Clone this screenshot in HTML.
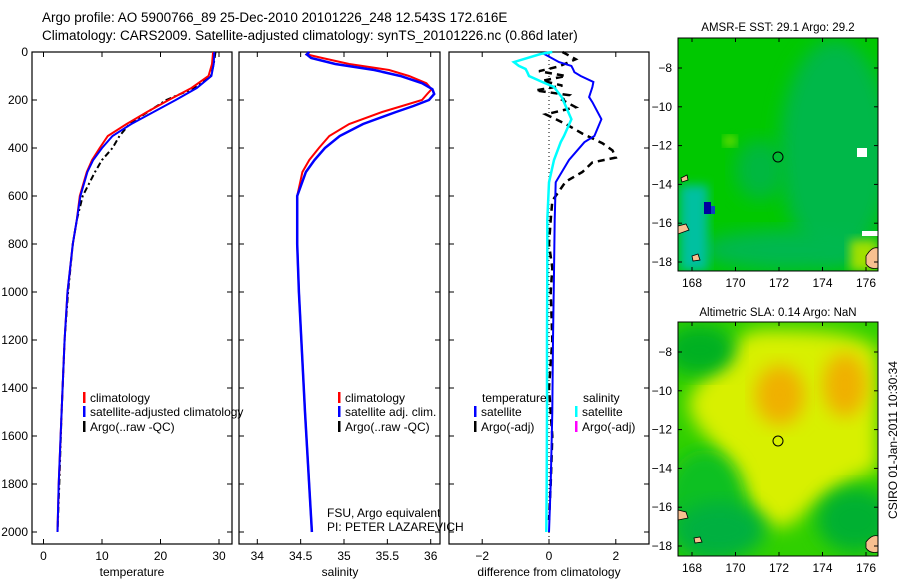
<!DOCTYPE html>
<html><head><meta charset="utf-8">
<style>
html,body{margin:0;padding:0;background:#fff;}
svg{display:block;font-family:"Liberation Sans",sans-serif;}
</style></head>
<body>
<svg id="fig" width="900" height="580" viewBox="0 0 900 580" xmlns="http://www.w3.org/2000/svg">
<defs>
<filter id="blur" x="-20%" y="-20%" width="140%" height="140%"><feGaussianBlur stdDeviation="9"/></filter>
<filter id="blur2" x="-20%" y="-20%" width="140%" height="140%"><feGaussianBlur stdDeviation="5"/></filter>
<clipPath id="c1"><rect x="678" y="38" width="200" height="233"/></clipPath>
<clipPath id="c2"><rect x="678" y="322" width="200" height="234"/></clipPath>
</defs>
<text x="42" y="22" font-size="13.5">Argo profile: AO 5900766_89 25-Dec-2010 20101226_248 12.543S 172.616E</text>
<text x="42" y="40" font-size="13.5">Climatology: CARS2009. Satellite-adjusted climatology: synTS_20101226.nc (0.86d later)</text>

<!-- map 1 -->
<g clip-path="url(#c1)">
<rect x="678" y="38" width="200" height="233" fill="#00c800"/>
<ellipse cx="835" cy="150" rx="55" ry="110" fill="#00b848" filter="url(#blur)"/>
<ellipse cx="790" cy="250" rx="90" ry="20" fill="#00b850" filter="url(#blur)"/>
<ellipse cx="760" cy="170" rx="25" ry="30" fill="#00b840" filter="url(#blur)"/>
<rect x="680" y="185" width="28" height="86" fill="#00c0a0" filter="url(#blur2)"/>
<rect x="704" y="202" width="7" height="12" fill="#0000a0"/>
<rect x="711" y="206" width="4" height="8" fill="#1040c0"/>
<rect x="850" y="240" width="28" height="31" fill="#a0e000" filter="url(#blur2)"/>
<rect x="724" y="136" width="12" height="10" fill="#80e000" filter="url(#blur2)"/>
<rect x="857" y="148" width="10" height="9" fill="#fff"/>
<rect x="862" y="231" width="16" height="5" fill="#fff"/>
<path d="M866 256 q6 -10 12 -8 v20 q-8 2 -12 -4z" fill="#f8c090" stroke="#000" stroke-width="0.8"/>
<path d="M678 226 l8 -2 l3 6 l-11 4z" fill="#f8c090" stroke="#000" stroke-width="0.8"/>
<path d="M692 256 l6 -2 l2 6 l-7 1z" fill="#f8c090" stroke="#000" stroke-width="0.8"/>
<path d="M681 178 l6 -3 l1 5 l-6 2z" fill="#f8c090" stroke="#000" stroke-width="0.8"/>
<circle cx="778" cy="157" r="5" fill="none" stroke="#000"/>
</g>
<rect x="678" y="38" width="200" height="233" fill="none" stroke="#000"/>
<text x="778" y="31" font-size="11.5" text-anchor="middle">AMSR-E SST: 29.1 Argo: 29.2</text>

<!-- map 2 -->
<g clip-path="url(#c2)">
<rect x="678" y="322" width="200" height="234" fill="#30d000"/>
<path d="M690 395 C 720 360, 740 330, 760 330 C 800 330, 860 330, 878 350 L 878 470 C 840 480, 820 500, 790 525 C 760 540, 730 470, 710 440 C 695 425, 685 410, 690 395 Z" fill="#d8f000" filter="url(#blur)"/>
<ellipse cx="780" cy="395" rx="25" ry="30" fill="#f0b000" filter="url(#blur)"/>
<ellipse cx="845" cy="385" rx="22" ry="32" fill="#f0b000" filter="url(#blur)"/>
<ellipse cx="700" cy="350" rx="35" ry="25" fill="#00b020" filter="url(#blur)"/>
<ellipse cx="705" cy="505" rx="40" ry="55" fill="#10c020" filter="url(#blur)"/>
<ellipse cx="720" cy="530" rx="45" ry="28" fill="#00b040" filter="url(#blur)"/>
<ellipse cx="855" cy="520" rx="38" ry="32" fill="#00b030" filter="url(#blur)"/>
<path d="M678 510 l8 2 l2 6 l-10 2z" fill="#f8c090" stroke="#000" stroke-width="0.8"/>
<path d="M694 538 l6 -1 l2 5 l-7 1z" fill="#f8c090" stroke="#000" stroke-width="0.8"/>
<path d="M866 542 q6 -8 12 -6 v16 q-8 2 -12 -4z" fill="#f8c090" stroke="#000" stroke-width="0.8"/>
<circle cx="778" cy="441" r="5" fill="none" stroke="#000"/>
</g>
<rect x="678" y="322" width="200" height="234" fill="none" stroke="#000"/>
<text x="778" y="316" font-size="11.5" text-anchor="middle">Altimetric SLA: 0.14 Argo: NaN</text>
<text transform="translate(897,440) rotate(-90)" font-size="12" text-anchor="middle">CSIRO 01-Jan-2011 10:30:34</text>
<g id="dyn"></g>
</svg>
<script>
// ---------- data ----------
const depthT = [0,50,100,150,200,250,300,350,400,450,500,600,700,800,1000,1200,1500,1800,2000];
const tempClim = [29.0,28.8,28.2,25.3,21.4,17.7,14.2,11.0,9.6,8.3,7.4,6.2,5.7,5.0,4.1,3.6,3.1,2.6,2.4];
const tempSat  = [29.2,29.1,28.7,26.2,22.6,18.8,15.0,11.8,10.0,8.5,7.5,6.3,5.7,5.0,4.1,3.6,3.1,2.6,2.4];
const tempArgo = [29.4,29.1,28.6,25.8,21.0,17.8,14.7,13.0,11.8,10.0,8.8,6.7,5.7,5.0,4.2,3.6,3.1,2.7,2.4];
const depthS = [0,10,25,50,75,100,130,155,175,200,225,250,300,350,400,450,500,600,800,1000,1500,2000];
const salClim = [34.6,34.57,34.75,35.06,35.52,35.75,35.95,36.01,35.96,35.9,35.67,35.44,35.06,34.83,34.71,34.6,34.52,34.46,34.46,34.48,34.55,34.63];
const salSat  = [34.6,34.57,34.62,34.9,35.35,35.65,35.9,36.02,36.04,35.98,35.8,35.6,35.22,34.95,34.78,34.66,34.56,34.46,34.46,34.48,34.55,34.63];
const depthD = [0,8,42,58,71,84,100,125,146,188,209,280,350,376,450,543,700,918,1200,1500,1800,2000];
const diffTsat = [-0.1,-0.15,0.3,0.67,0.72,0.76,0.95,1.33,1.3,1.2,1.3,1.57,1.36,1.06,0.6,0.2,0.17,0.15,0.12,0.1,0.05,0.0];
const diffSsat = [0.1,-0.24,-1.05,-0.9,-0.7,-0.65,-0.6,-0.2,0.15,0.38,0.45,0.67,0.45,0.35,0.15,0.0,-0.05,-0.05,-0.06,-0.06,-0.07,-0.08];
const depthA = [0,30,60,80,100,120,140,160,180,200,230,260,300,340,380,410,440,460,500,540,580,620,700,800,900,1000,1200,1400,1600,1800,1950];
const diffTargo = [0.4,0.8,0.3,-0.3,0.5,-0.2,0.4,-0.4,0.6,0.4,0.8,-0.1,0.5,1.0,1.6,1.9,2.0,1.3,1.0,0.5,0.3,0.1,0.05,0.0,0.1,0.05,0.1,0.0,0.1,0.05,0.0];
const depthTicks = [0,200,400,600,800,1000,1200,1400,1600,1800,2000];
const tempTicks = [0,10,20,30];
const salTicks = [34,34.5,35,35.5,36];
const diffTicks = [-2,0,2];
const lonTicks = [168,170,172,174,176];
const latTicks = [-8,-10,-12,-14,-16,-18];

// ---------- axes ----------
const yD = d => 52 + d*0.24;
const xT = t => 43.5 + t*5.85;
const xS = s => 344 + (s-35)*86.7;
const xDf = v => 549 + v*33.4;
const xLon = l => 692 + (l-168)*21.75;
const yLat1 = l => 68 + (-8-l)*19.4;
const yLat2 = l => 352 + (-8-l)*19.4;

const NS='http://www.w3.org/2000/svg';
const g=document.getElementById('dyn');
function el(tag,attrs,parent){const e=document.createElementNS(NS,tag);for(const k in attrs)e.setAttribute(k,attrs[k]);(parent||g).appendChild(e);return e;}
function txt(s,x,y,anchor,size){const t=el('text',{x:x,y:y,'font-size':size||12,'text-anchor':anchor||'start'});t.textContent=s;return t;}

const panels=[{x0:32,x1:232,name:'temperature-panel'},{x0:239,x1:440,name:'salinity-panel'},{x0:449,x1:649,name:'difference-panel'}];
panels.forEach(p=>{
  const r=el('rect',{x:p.x0,y:52,width:p.x1-p.x0,height:492,fill:'none',stroke:'#000','stroke-width':1.2});
  
  
  depthTicks.forEach(d=>{
    el('line',{x1:p.x0,x2:p.x0+5,y1:yD(d),y2:yD(d),stroke:'#000'});
    el('line',{x1:p.x1-5,x2:p.x1,y1:yD(d),y2:yD(d),stroke:'#000'});
  });
});
depthTicks.forEach(d=>{
  const t=txt(String(d),28,yD(d)+4,'end',12);
  
  
});
function xticks(ticks,fx,labelFn){
  ticks.forEach(v=>{
    const x=fx(v);
    el('line',{x1:x,x2:x,y1:52,y2:57,stroke:'#000'});
    el('line',{x1:x,x2:x,y1:539,y2:544,stroke:'#000'});
    const t=txt(labelFn?labelFn(v):String(v),x,560,'middle',12);
    
    
  });
}
xticks(tempTicks,xT);
xticks(salTicks,xS);
xticks(diffTicks,xDf,v=>v<0?'\u2212'+Math.abs(v):String(v));
[['temperature',132],['salinity',340],['difference from climatology',549]].forEach(a=>{
  const t=txt(a[0],a[1],576,'middle',12);
  
  
});

function line(xs,ds,fx,color,w,dash,name){
  const pts=xs.map((v,i)=>fx(v).toFixed(1)+','+yD(ds[i]).toFixed(1)).join(' ');
  const pl=el('polyline',{points:pts,fill:'none',stroke:color,'stroke-width':w});
  if(dash)pl.setAttribute('stroke-dasharray',dash);
  
  
}
el('line',{x1:xDf(0),x2:xDf(0),y1:52,y2:544,stroke:'#000','stroke-dasharray':'1,3'});
line(tempArgo,depthT,xT,'#000',2,'6,3,2,3','temp-argo-line');
line(tempClim,depthT,xT,'#f00',2,null,'temp-climatology-line');
line(tempSat,depthT,xT,'#00f',2,null,'temp-satellite-line');
line(salClim,depthS,xS,'#f00',2,null,'sal-climatology-line');
line(salSat,depthS,xS,'#00f',2.5,null,'sal-satellite-line');
line(diffTargo,depthA,xDf,'#000',2.5,'7,5','diff-temp-argo-line');
line(diffTsat,depthD,xDf,'#00f',2,null,'diff-temp-satellite-line');
line(diffSsat,depthD,xDf,'#0ff',2.5,null,'diff-sal-satellite-line');

function legend(x,y,color,label){
  if(color){const m=el('rect',{x:x,y:y-6,width:2.5,height:11,fill:color});
    
    }
  const t=txt(label,x+7,y+4,'start',12);
  
  
}
legend(83,398,'#f00','climatology');
legend(83,412,'#00f','satellite-adjusted climatology');
legend(83,427,'#000','Argo(..raw -QC)');
legend(338,398,'#f00','climatology');
legend(338,412,'#00f','satellite adj. clim.');
legend(338,427,'#000','Argo(..raw -QC)');
legend(475,398,null,'temperature');
legend(474,412,'#00f','satellite');
legend(474,427,'#000','Argo(-adj)');
legend(576,398,null,'salinity');
legend(575,412,'#0ff','satellite');
legend(575,427,'#f0f','Argo(-adj)');
[['FSU, Argo equivalent',517],['PI: PETER LAZAREVICH',531]].forEach(a=>{
  const t=txt(a[0],327,a[1],'start',12);
  
  
});

// map ticks
[[38,271,yLat1],[322,556,yLat2]].forEach(m=>{
  lonTicks.forEach(l=>{
    const x=xLon(l);
    el('line',{x1:x,x2:x,y1:m[0],y2:m[0]+4,stroke:'#000'});
    el('line',{x1:x,x2:x,y1:m[1]-4,y2:m[1],stroke:'#000'});
    const t=txt(String(l),x,m[1]+16,'middle',12);
    
    
  });
  latTicks.forEach(l=>{
    const y=m[2](l);
    el('line',{x1:678,x2:682,y1:y,y2:y,stroke:'#000'});
    el('line',{x1:874,x2:878,y1:y,y2:y,stroke:'#000'});
    const t=txt(String(l).replace('-','\u2212'),672,y+4,'end',12);
    
    
  });
});
</script>
</body></html>
